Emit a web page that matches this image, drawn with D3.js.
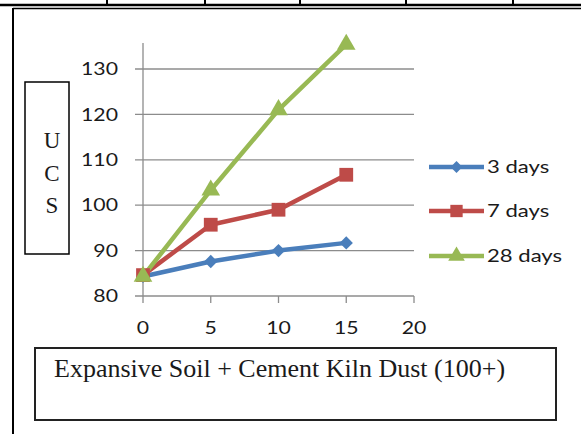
<!DOCTYPE html>
<html>
<head>
<meta charset="utf-8">
<script src="https://cdn.jsdelivr.net/npm/d3@7"></script>
<style>
  html, body { margin: 0; padding: 0; background: #fff; }
  svg { display: block; }
</style>
</head>
<body>
<svg id="chart" width="581" height="434"></svg>
<script>
// ---- data ----
const xValues = [0, 5, 10, 15];
const seriesNames = ["3 days", "7 days", "28 days"];
const days3 = [84.3, 87.6, 90.0, 91.7];
const days7 = [84.6, 95.7, 99.0, 106.7];
const days28 = [84.3, 103.3, 121.0, 135.4];
const yTicks = [80, 90, 100, 110, 120, 130];
const xTicks = [0, 5, 10, 15, 20];
const yLabelLetters = ["U", "C", "S"];
const xTitle = "Expansive Soil + Cement Kiln Dust (100+)";

const seriesValues = [days3, days7, days28];
const colors = ["#4a7ebb", "#be4b48", "#98b954"];
const markers = [d3.symbolSquare, d3.symbolSquare, d3.symbolTriangle];
const markerSizes = [88, 190, 150];
const markerRot = [45, 0, 0];

const svg = d3.select("#chart");
const sansFont = "Lato, 'Open Sans', sans-serif";
const serifFont = "'Liberation Serif', 'Times New Roman', serif";
const sx = 1.25; // horizontal stretch of the sans text

// ---- page frame ----
svg.append("line").attr("x1", 0).attr("x2", 581).attr("y1", 5).attr("y2", 5)
  .attr("stroke", "#000").attr("stroke-width", 2.5);
[107, 205, 300, 406, 513].forEach(x => {
  svg.append("line").attr("x1", x).attr("x2", x).attr("y1", 0).attr("y2", 5)
    .attr("stroke", "#000").attr("stroke-width", 2);
});
svg.append("line").attr("x1", 13).attr("x2", 581).attr("y1", 8.5).attr("y2", 8.5)
  .attr("stroke", "#000").attr("stroke-width", 1.5);
svg.append("line").attr("x1", 13).attr("x2", 13).attr("y1", 8).attr("y2", 434)
  .attr("stroke", "#000").attr("stroke-width", 2);

// ---- scales ----
const x = d3.scaleLinear().domain([0, 20]).range([143, 414]);
const y = d3.scaleLinear().domain([80, 130]).range([296, 69]);

// ---- grid & axes ----
const g = svg.append("g");
g.selectAll(".grid").data(yTicks).join("line")
  .attr("x1", x(0) - 8).attr("x2", x(20))
  .attr("y1", d => y(d)).attr("y2", d => y(d))
  .attr("stroke", "#8c8c8c").attr("stroke-width", 1.3);
g.append("line").attr("x1", x(0)).attr("x2", x(0)).attr("y1", 43).attr("y2", y(80))
  .attr("stroke", "#8c8c8c").attr("stroke-width", 1.3);
g.selectAll(".xt").data(xTicks).join("line")
  .attr("x1", d => x(d)).attr("x2", d => x(d))
  .attr("y1", y(80)).attr("y2", y(80) + 7)
  .attr("stroke", "#8c8c8c").attr("stroke-width", 1.3);

g.selectAll(".yl").data(yTicks).join("text")
  .attr("transform", d => `translate(118,${y(d)}) scale(${sx},1)`)
  .attr("text-anchor", "end").attr("dy", "0.36em")
  .attr("font-family", sansFont).attr("font-size", 17).attr("fill", "#1a1a1a")
  .text(d => d);
g.selectAll(".xl").data(xTicks).join("text")
  .attr("transform", d => `translate(${x(d)},${y(80) + 32}) scale(${sx},1)`)
  .attr("text-anchor", "middle").attr("dy", "0.36em")
  .attr("font-family", sansFont).attr("font-size", 17).attr("fill", "#1a1a1a")
  .text(d => d);

// ---- series ----
const line = d3.line().x((d, i) => x(xValues[i])).y(d => y(d));
seriesValues.forEach((vals, si) => {
  g.append("path").datum(vals).attr("d", line)
    .attr("fill", "none").attr("stroke", colors[si]).attr("stroke-width", 4.5)
    .attr("stroke-linejoin", "round");
});
seriesValues.forEach((vals, si) => {
  g.selectAll(".m" + si).data(vals).join("path")
    .attr("transform", (d, i) => `translate(${x(xValues[i])},${y(d)}) rotate(${markerRot[si]})`)
    .attr("d", d3.symbol().type(markers[si]).size(markerSizes[si]))
    .attr("fill", colors[si]);
});

// ---- legend ----
const legendY = [167, 211, 256];
seriesNames.forEach((name, si) => {
  const lg = svg.append("g");
  lg.append("line").attr("x1", 429).attr("x2", 484).attr("y1", legendY[si]).attr("y2", legendY[si])
    .attr("stroke", colors[si]).attr("stroke-width", 4.5);
  lg.append("path")
    .attr("transform", `translate(456.5,${legendY[si]}) rotate(${markerRot[si]})`)
    .attr("d", d3.symbol().type(markers[si]).size(markerSizes[si] * 0.8))
    .attr("fill", colors[si]);
  lg.append("text")
    .attr("transform", `translate(487,${legendY[si]}) scale(1.3,1)`)
    .attr("dy", "0.36em")
    .attr("font-family", sansFont).attr("font-size", 17).attr("fill", "#1a1a1a")
    .text(name);
});

// ---- y title box ----
svg.append("rect").attr("x", 25).attr("y", 82).attr("width", 44).attr("height", 172)
  .attr("fill", "none").attr("stroke", "#000").attr("stroke-width", 1.5);
const letterY = [140, 173, 205];
yLabelLetters.forEach((ch, i) => {
  svg.append("text").attr("x", 52).attr("y", letterY[i]).attr("dy", "0.35em")
    .attr("text-anchor", "middle")
    .attr("font-family", serifFont).attr("font-size", 23).attr("fill", "#1a1a1a")
    .text(ch);
});

// ---- x title box ----
svg.append("rect").attr("x", 35).attr("y", 348).attr("width", 521).attr("height", 72)
  .attr("fill", "none").attr("stroke", "#222").attr("stroke-width", 2);
svg.append("text").attr("x", 54).attr("y", 377)
  .attr("font-family", serifFont).attr("font-size", 26).attr("fill", "#1a1a1a")
  .text(xTitle);
</script>
</body>
</html>
